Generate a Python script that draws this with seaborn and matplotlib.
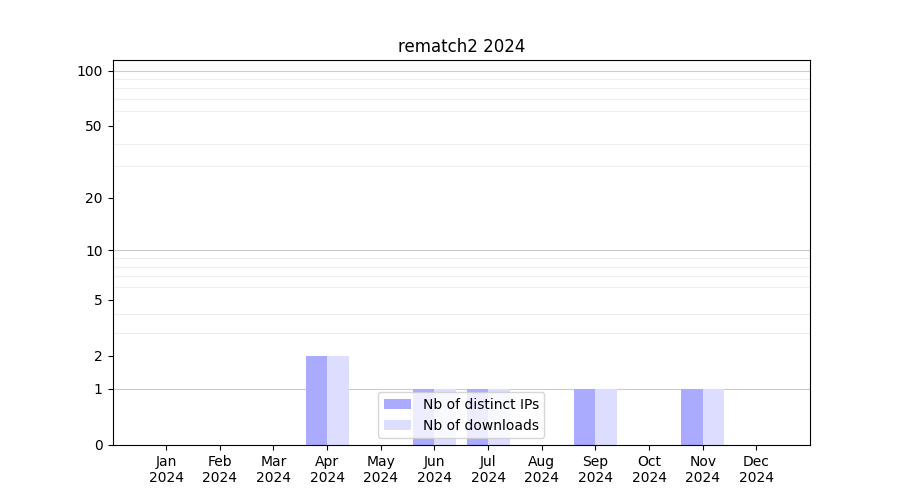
import matplotlib
matplotlib.use('Agg')
import matplotlib.pyplot as plt
import seaborn as sns
import numpy as np
import pandas as pd

MONTHS = ['Jan', 'Feb', 'Mar', 'Apr', 'May', 'Jun', 'Jul', 'Aug', 'Sep', 'Oct', 'Nov', 'Dec']
YEAR = '2024'
DISTINCT_IPS = [0, 0, 0, 2, 0, 1, 1, 0, 1, 0, 1, 0]
DOWNLOADS = [0, 0, 0, 2, 0, 1, 1, 0, 1, 0, 1, 0]
Y_TICKS = [0, 1, 2, 5, 10, 20, 50, 100]

IP_COLOR = '#aaaaff'
DL_COLOR = '#ddddff'


def fwd(y):
    return np.log10(np.clip(1 + np.asarray(y, dtype=float), 1e-12, None))


def inv(y):
    return 10 ** np.asarray(y, dtype=float) - 1


df = pd.DataFrame({
    'month': MONTHS * 2,
    'value': DISTINCT_IPS + DOWNLOADS,
    'kind': ['Nb of distinct IPs'] * 12 + ['Nb of downloads'] * 12,
})

fig, ax = plt.subplots(figsize=(9, 5), dpi=100)
sns.barplot(data=df, x='month', y='value', hue='kind', order=MONTHS,
            palette=[IP_COLOR, DL_COLOR], saturation=1, linewidth=0,
            width=0.8, errorbar=None, ax=ax, zorder=2)

ax.set_yscale('function', functions=(fwd, inv))
ax.set_ylim(0, 114)
ax.set_yticks(Y_TICKS)
ax.set_yticklabels([str(t) for t in Y_TICKS])
minor = [v for v in list(range(2, 10)) + list(range(20, 100, 10))]
ax.set_yticks(minor, minor=True)
ax.tick_params(axis='y', which='minor', length=0)
ax.grid(False)
ax.grid(True, axis='y', which='minor', color='#eeeeee', linewidth=0.8, zorder=0)
for v in [1, 10, 100]:
    ax.axhline(v, color='#cccccc', linewidth=0.8, zorder=1)

ax.set_xlim(-1, 12)
ax.set_xticks(range(len(MONTHS)))
ax.set_xticklabels(['{m}\n{y}'.format(m=m, y=YEAR) for m in MONTHS])
ax.set_xlabel('')
ax.set_ylabel('')
ax.set_title('rematch2 {y}'.format(y=YEAR))
ax.legend(loc='lower center', title=None)

fig.savefig('out.png')
